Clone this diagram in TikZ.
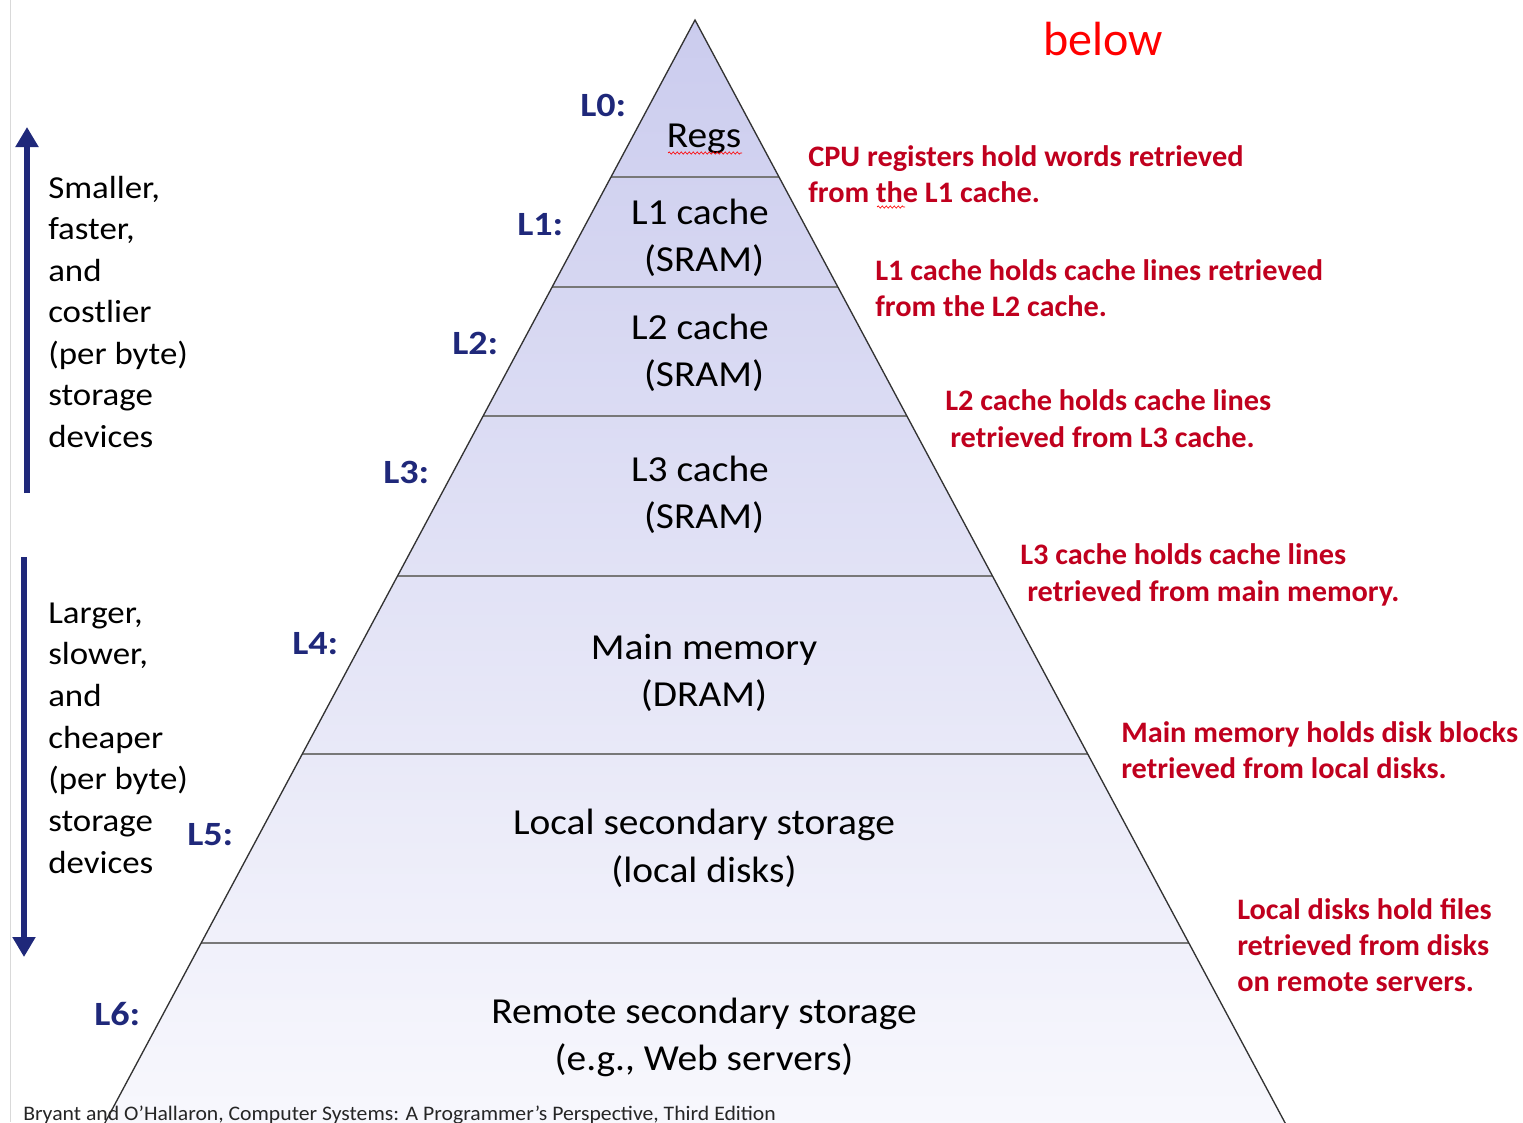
\documentclass[tikz,border=0pt]{standalone}
\usepackage{fontspec}
\setmainfont{Carlito}
\newfontfamily\tierfont[FakeStretch=1.075]{Carlito}
\newfontfamily\sidefont[FakeStretch=1.09]{Carlito}
\newfontfamily\notefont[FakeStretch=1.02]{Carlito}
\newfontfamily\lvlfont[FakeStretch=1.12]{Carlito}
\newfontfamily\citefont[FakeStretch=1.05]{Carlito}
\usetikzlibrary{arrows.meta,decorations.pathmorphing}
\definecolor{lvlblue}{RGB}{31,40,122}
\definecolor{notered}{RGB}{192,0,30}
\definecolor{pyrtop}{RGB}{203,204,238}
\definecolor{pyrbot}{RGB}{248,248,253}
\definecolor{sepgray}{RGB}{120,120,120}
\begin{document}
\begin{tikzpicture}[x=0.75pt,y=-0.75pt,
 tier/.style={font=\tierfont\fontsize{27.5}{32}\selectfont, anchor=base, inner sep=0pt},
 lvl/.style={font=\lvlfont\fontsize{25.5}{30}\selectfont\bfseries, text=lvlblue, anchor=base west, inner sep=0pt},
 note/.style={font=\notefont\fontsize{22.3}{26}\selectfont\bfseries, text=notered, anchor=base west, inner sep=0pt},
 side/.style={font=\sidefont\fontsize{24}{28}\selectfont, anchor=base west, inner sep=0pt},
 sepline/.style={draw=sepgray, line width=1.5pt},
 pyredge/.style={draw=black!80, line width=1pt},
 bigarrow/.style={draw=lvlblue, line width=5pt, -{Triangle[width=16.5pt,length=15pt]}},
 squig/.style={draw=red, line width=0.5pt, decorate, decoration={snake, amplitude=0.8pt, segment length=3pt}}
]
\path[use as bounding box, fill=white] (0,0) rectangle (1523,1122);

% left border line
\coordinate (bordtop) at (10,0);
\coordinate (bordbot) at (10,1122);
\draw[black!15, line width=0.75pt] (bordtop) -- (bordbot);

% pyramid
\coordinate (apex) at (695,20);
\coordinate (bl) at (99.5,1133);
\coordinate (br) at (1290.5,1133);
\shade[top color=pyrtop, bottom color=pyrbot] (apex) -- (bl) -- (br) -- cycle;
\foreach \y/\n in {177/a,287/b,416/c,576/d,754/e,943/f}{
  \coordinate (s\n l) at ({695-0.535*(\y-20)},\y);
  \coordinate (s\n r) at ({695+0.535*(\y-20)},\y);
  \draw[sepline] (s\n l) -- (s\n r);
}
\draw[pyredge] (bl) -- (apex) -- (br);

% tier texts
\node[tier] (regs) at (704,147) {Regs};
\node[tier] (l1a) at (700,224) {L1 cache};
\node[tier] (l1b) at (704,271) {(SRAM)};
\node[tier] (l2a) at (700,339) {L2 cache};
\node[tier] (l2b) at (704,386) {(SRAM)};
\node[tier] (l3a) at (700,481) {L3 cache};
\node[tier] (l3b) at (704,528) {(SRAM)};
\node[tier] (l4a) at (704,659) {Main memory};
\node[tier] (l4b) at (704,706) {(DRAM)};
\node[tier] (l5a) at (704,834) {Local secondary storage};
\node[tier] (l5b) at (704,882) {(local disks)};
\node[tier] (l6a) at (704,1023) {Remote secondary storage};
\node[tier] (l6b) at (704,1070) {(e.g., Web servers)};

% level labels
\node[lvl] (L0) at (580,116) {L0:};
\node[lvl] (L1) at (517,235) {L1:};
\node[lvl] (L2) at (452,354) {L2:};
\node[lvl] (L3) at (383,483) {L3:};
\node[lvl] (L4) at (292,654) {L4:};
\node[lvl] (L5) at (187,845) {L5:};
\node[lvl] (L6) at (94,1025) {L6:};

% red notes
\node[note] (n1a) at (808,166) {CPU registers hold words retrieved};
\node[note] (n1b) at (808,202) {from the L1 cache.};
\node[note] (n2a) at (875,280) {L1 cache holds cache lines retrieved};
\node[note] (n2b) at (875,316) {from the L2 cache.};
\node[note] (n3a) at (945,410) {L2 cache holds cache lines};
\node[note] (n3b) at (950,447) {retrieved from L3 cache.};
\node[note] (n4a) at (1020,564) {L3 cache holds cache lines};
\node[note] (n4b) at (1027,601) {retrieved from main memory.};
\node[note] (n5a) at (1121,742) {Main memory holds disk blocks};
\node[note] (n5b) at (1121,778) {retrieved from local disks.};
\node[note] (n6a) at (1237,919) {Local disks hold files};
\node[note] (n6b) at (1237,955) {retrieved from disks};
\node[note] (n6c) at (1237,991) {on remote servers.};

% spell-check squiggles
\coordinate (sqa1) at (668,153);
\coordinate (sqa2) at (742,153);
\draw[squig] (sqa1) -- (sqa2);
\coordinate (sqb1) at (877,207);
\coordinate (sqb2) at (905,207);
\draw[squig] (sqb1) -- (sqb2);

% handwritten note
\node[font=\fontsize{36}{40}\selectfont, text=red, anchor=base west, inner sep=0pt] (below) at (1043,55) {below};

% left side arrows and texts
\coordinate (upfrom) at (27,493);
\coordinate (upto) at (27,127);
\draw[bigarrow] (upfrom) -- (upto);
\coordinate (dnfrom) at (24,557);
\coordinate (dnto) at (24,957);
\draw[bigarrow] (dnfrom) -- (dnto);

\foreach \t [count=\i] in {{Smaller,},{faster,},and,costlier,(per byte),storage,devices}{
  \node[side] (up\i) at (48,{198+(\i-1)*41.5}) {\t};
}
\foreach \t [count=\i] in {{Larger,},{slower,},and,cheaper,(per byte),storage,devices}{
  \node[side] (dn\i) at (48,{623+(\i-1)*41.7}) {\t};
}

% citation
\node[font=\citefont\fontsize{15.5}{17}\selectfont, anchor=base west, inner sep=0pt, text=black!85] (cite) at (23,1120) {Bryant and O’Hallaron, Computer Systems: A Programmer’s Perspective, Third Edition};
\end{tikzpicture}
\end{document}
